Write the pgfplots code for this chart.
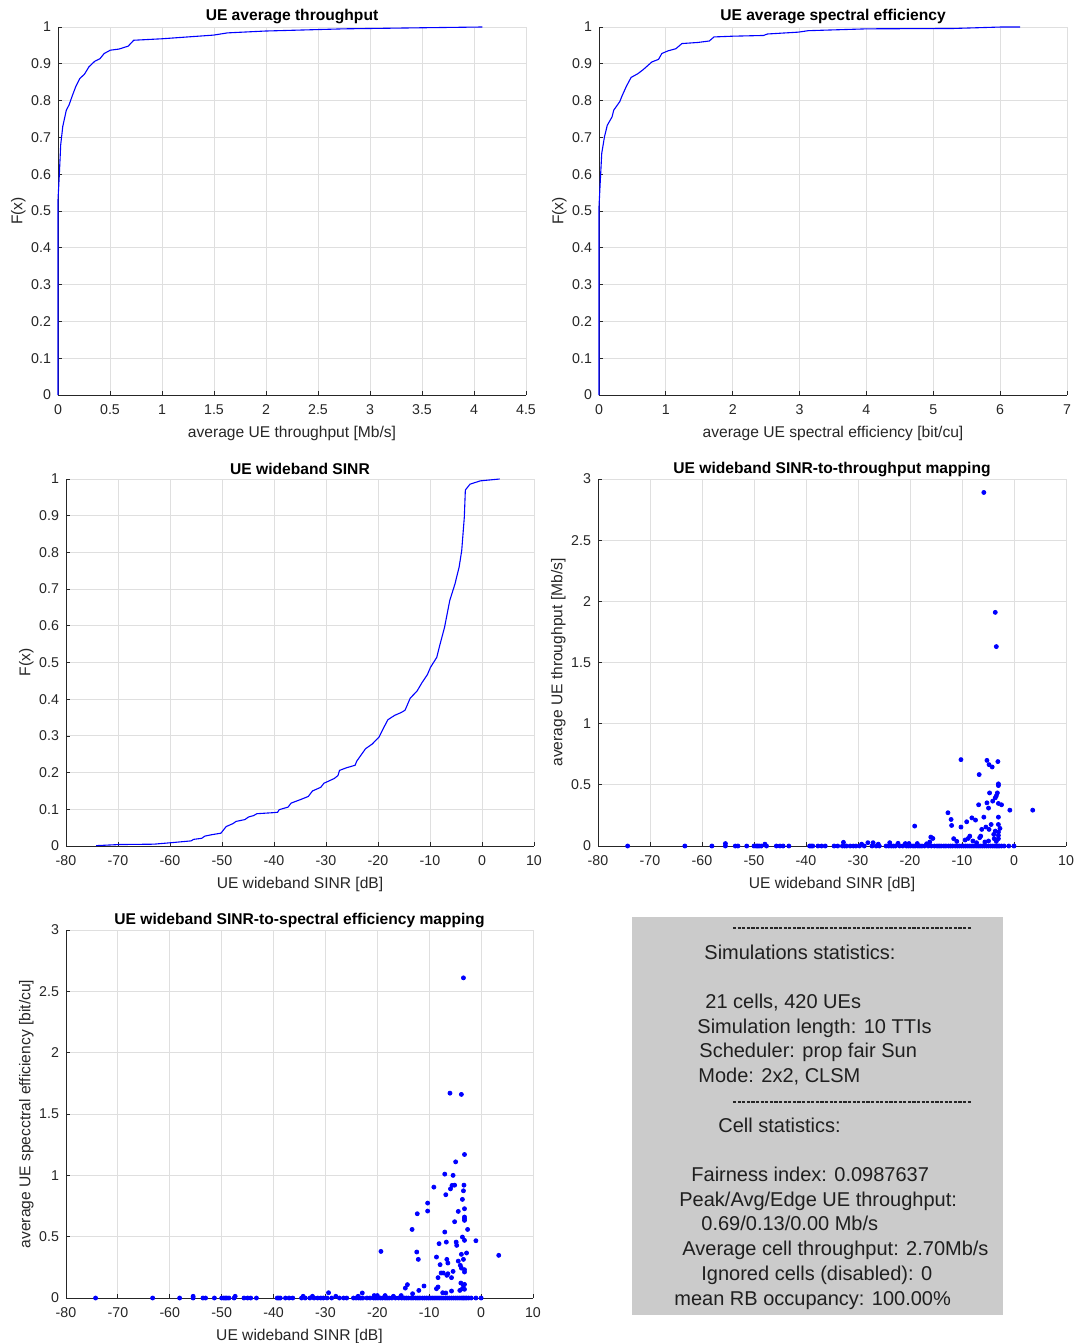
\documentclass[border=0pt]{standalone}
\usepackage{fontspec}
\setmainfont{Liberation Sans}
\usepackage{pgfplots}
\pgfplotsset{compat=1.18}

\definecolor{axisgray}{RGB}{38,38,38}
\definecolor{gridgray}{RGB}{223,223,223}
\definecolor{panelgray}{RGB}{203,203,203}
\definecolor{mblue}{RGB}{0,0,255}

\pgfplotsset{
  mfig/.style={
    scale only axis, width=234pt, height=184pt,
    axis lines=left, axis line style={-, color=axisgray, line width=0.5pt},
    grid=major, major grid style={color=gridgray, line width=0.45pt},
    tick align=inside, major tick length=2pt,
    tick style={color=axisgray, line width=0.4pt},
    tick label style={font=\fontsize{7.1}{8}\selectfont, color=axisgray},
    xticklabel style={yshift=-1.5pt},
    label style={font=\fontsize{7.8}{9}\selectfont, color=axisgray},
    title style={font=\bfseries\fontsize{7.8}{9}\selectfont, at={(axis description cs:0.5,1)}, anchor=center, yshift=-1pt},
    xlabel style={at={(axis description cs:0.5,-0.104)}, anchor=center},
    ylabel style={at={(axis description cs:-0.085,0.5)}, anchor=center},
    /pgf/number format/assume math mode=true,
    /pgf/number format/fixed,
    clip=false,
  },
  cdfline/.style={color=mblue, line width=0.55pt, no marks},
  dots/.style={only marks, mark=*, mark size=1pt, color=mblue},
}

% empirical CDF of the average UE throughput [Mb/s]
\pgfplotstableread{
x F
0 0
0 0.53
0.013 0.60
0.026 0.68
0.046 0.73
0.08 0.774
0.106 0.788
0.14 0.815
0.172 0.839
0.21 0.86
0.255 0.872
0.298 0.892
0.354 0.907
0.404 0.914
0.444 0.928
0.503 0.937
0.586 0.940
0.675 0.948
0.728 0.964
1.0 0.968
1.497 0.978
1.63 0.984
1.99 0.989
2.75 0.995
3.52 0.998
4.08 1.0
}\thrcdf

% empirical CDF of the average UE spectral efficiency [bit/cu]
\pgfplotstableread{
x F
0 0
0 0.512
0.02 0.584
0.041 0.657
0.082 0.702
0.124 0.733
0.196 0.756
0.22 0.774
0.31 0.797
0.35 0.815
0.41 0.839
0.48 0.863
0.58 0.873
0.66 0.884
0.79 0.905
0.89 0.912
0.94 0.928
1.03 0.935
1.15 0.941
1.24 0.955
1.48 0.958
1.65 0.962
1.72 0.973
2.0 0.975
2.46 0.977
2.52 0.981
2.98 0.986
3.13 0.990
4.01 0.995
5.3 0.996
6.02 1.0
6.30 1.0
}\secdf

% empirical CDF of the UE wideband SINR [dB]
\pgfplotstableread{
x F
-74.2 0.001
-69.8 0.004
-63.1 0.005
-59.8 0.009
-55.9 0.014
-55.5 0.018
-53.9 0.021
-53.3 0.027
-51.9 0.031
-50.2 0.035
-49.2 0.053
-47.9 0.061
-47.3 0.067
-45.6 0.072
-44.9 0.079
-43.9 0.083
-43.3 0.088
-40.0 0.091
-39.3 0.092
-39.0 0.099
-37.3 0.106
-36.7 0.117
-35.0 0.126
-33.4 0.135
-32.6 0.150
-31.0 0.160
-30.4 0.171
-28.4 0.184
-27.7 0.192
-27.4 0.206
-26.1 0.213
-24.4 0.220
-24.1 0.231
-22.4 0.265
-21.1 0.278
-19.8 0.297
-19.1 0.317
-18.1 0.344
-16.8 0.356
-15.5 0.364
-14.8 0.370
-13.8 0.403
-12.5 0.422
-11.5 0.446
-10.5 0.467
-9.9 0.487
-8.7 0.514
-8.1 0.548
-7.2 0.596
-6.2 0.669
-5.2 0.714
-4.4 0.760
-3.9 0.805
-3.4 0.896
-3.2 0.970
-2.3 0.986
-0.3 0.995
3.4 1.0
}\sinrcdf

% UE wideband SINR [dB] vs. average UE throughput [Mb/s]
\pgfplotstableread{
x y
-74.3 0
-63.3 0
-58.1 0
-55.5 0.02
-55.5 0
-53.6 0
-53.1 0
-51.4 0
-50.0 0
-49.6 0
-49.3 0
-49.0 0
-48.6 0
-47.9 0.015
-47.6 0
-45.7 0
-45.0 0
-44.4 0
-43.3 0
-39.3 0
-39.0 0
-38.7 0
-37.7 0
-37.0 0
-36.3 0
-34.6 0
-33.9 0
-33.0 0
-32.8 0.03
-32.6 0
-32.2 0
-31.5 0
-30.9 0
-30.4 0
-29.7 0
-29.3 0.015
-28.8 0
-28.1 0.027
-27.3 0
-27.1 0.027
-26.5 0
-26.1 0.015
-25.9 0
-24.6 0
-24.1 0
-23.9 0.027
-23.6 0
-23.2 0
-22.8 0
-22.3 0.022
-22.0 0
-21.4 0
-20.9 0.02
-20.7 0
-20.3 0
-20.2 0.02
-19.9 0
-19.4 0
-19.1 0.163
-19.0 0
-18.6 0.02
-18.5 0
-18.1 0
-17.7 0
-17.2 0
-16.8 0.018
-16.5 0
-16.2 0.033
-16.0 0.073
-15.9 0
-15.6 0.062
-15.3 0
-14.8 0
-14.4 0
-14.0 0
-13.5 0
-13.1 0
-12.7 0.272
-12.6 0
-12.2 0
-12.1 0.217
-12.0 0.168
-11.8 0
-11.6 0.060
-11.3 0
-11.0 0.038
-10.9 0
-10.5 0
-10.2 0.706
-10.2 0.155
-10.1 0
-9.7 0
-9.4 0.049
-9.3 0
-9.1 0.198
-8.9 0
-8.8 0.062
-8.5 0.081
-8.5 0
-8.1 0.23
-8.1 0
-7.9 0.041
-7.7 0
-7.4 0.212
-7.3 0
-7.2 0.027
-6.9 0
-6.8 0.337
-6.7 0.584
-6.6 0.068
-6.5 0
-6.4 0.081
-6.2 0.136
-6.1 0
-5.8 2.89
-5.8 0.236
-5.7 0
-5.6 0.033
-5.4 0.155
-5.3 0
-5.2 0.70
-5.2 0.353
-4.9 0.31
-4.9 0.041
-4.9 0
-4.8 0.665
-4.8 0.136
-4.7 0.434
-4.5 0
-4.4 0.176
-4.2 0.646
-4.1 0.367
-4.1 0
-3.9 0.095
-3.8 0.060
-3.7 0
-3.6 1.91
-3.6 0.394
-3.6 0.122
-3.4 1.63
-3.4 0.41
-3.4 0.038
-3.4 0
-3.2 0.434
-3.1 0.69
-3.1 0
-3.0 0.508
-3.0 0.494
-3.0 0.348
-3.0 0.236
-3.0 0.176
-3.0 0.114
-3.0 0.087
-3.0 0.060
-2.8 0
-2.7 0.144
-2.4 0.337
-2.4 0
-1.9 0
-1.0 0
-0.8 0.293
0.0 0
3.6 0.293
}\sinrthr

% UE wideband SINR [dB] vs. average UE spectral efficiency [bit/cu]
\pgfplotstableread{
x y
-74.3 0
-63.3 0
-58.1 0
-55.5 0.014
-55.5 0
-53.6 0
-53.1 0
-51.4 0
-50.0 0
-49.6 0
-49.3 0
-49.0 0
-48.6 0
-47.4 0.014
-47.6 0
-45.7 0
-45.0 0
-44.4 0
-43.3 0
-39.3 0
-39.0 0
-38.7 0
-37.7 0
-37.0 0
-36.3 0
-34.6 0
-34.3 0.014
-33.9 0
-33.0 0
-32.5 0.014
-32.2 0
-31.5 0
-30.9 0
-30.4 0
-29.7 0
-29.4 0.043
-28.8 0
-28.0 0.014
-27.3 0
-26.5 0
-25.9 0
-24.6 0
-24.1 0
-23.7 0.014
-23.6 0
-23.2 0
-22.9 0.041
-22.8 0
-22.0 0
-21.4 0
-20.7 0
-20.6 0.02
-20.3 0
-20.0 0.02
-19.9 0
-19.4 0
-19.3 0.38
-19.0 0
-18.5 0.02
-18.5 0
-18.1 0
-17.7 0
-17.2 0
-16.9 0.014
-16.5 0
-15.9 0
-15.4 0.02
-15.3 0
-14.8 0
-14.6 0.081
-14.4 0
-14.2 0.109
-14.0 0
-13.5 0
-13.3 0.559
-13.2 0.035
-13.1 0
-12.6 0
-12.4 0.375
-12.3 0.687
-12.2 0
-12.1 0.315
-12.0 0.062
-11.8 0
-11.3 0
-11.0 0.098
-10.9 0
-10.5 0
-10.3 0.774
-10.3 0.709
-10.1 0
-9.7 0
-9.3 0
-9.1 0.904
-8.9 0
-8.6 0.334
-8.6 0.076
-8.5 0
-8.3 0.166
-8.3 0.09
-8.1 0.443
-8.1 0
-7.9 0.272
-7.7 0.204
-7.7 0
-7.4 0.043
-7.3 0.204
-7.3 0
-7.0 1.01
-7.0 0.538
-6.9 0
-6.8 0.842
-6.8 0.041
-6.7 0.456
-6.6 0.315
-6.6 0.185
-6.5 0
-6.4 0.285
-6.4 0.198
-6.1 0
-6.0 1.67
-5.9 0.89
-5.7 0.166
-5.7 0.057
-5.7 0
-5.6 0.918
-5.4 1.00
-5.4 0.217
-5.3 0
-5.1 0.92
-5.1 0.622
-4.9 1.11
-4.9 0
-4.8 0.456
-4.7 0.429
-4.5 0
-4.4 0.706
-4.4 0.301
-4.1 0.062
-4.1 0
-4.0 0.266
-3.9 0.122
-3.8 1.66
-3.8 0.356
-3.8 0.244
-3.7 0
-3.6 0.804
-3.6 0.497
-3.6 0.076
-3.4 2.61
-3.4 0.874
-3.4 0.315
-3.4 0.103
-3.4 0
-3.3 0.92
-3.2 1.17
-3.2 0.728
-3.2 0.66
-3.2 0.646
-3.2 0.633
-3.2 0.47
-3.2 0.231
-3.2 0.212
-3.2 0.111
-3.2 0.071
-3.1 0
-2.8 0.367
-2.8 0
-2.6 0.559
-2.4 0
-1.9 0
-1.0 0.467
-1.0 0
0.0 0
3.4 0.348
}\sinrse

\begin{document}
\begin{tikzpicture}
\path[use as bounding box] (0,0) rectangle (540pt,-671.5pt);

% CDF of average UE throughput
\begin{axis}[mfig, at={(29pt,-197.5pt)}, anchor=south west,
  xmin=0, xmax=4.5, ymin=0, ymax=1,
  xtick={0,0.5,...,4.5}, ytick={0,0.1,...,1},
  title={UE average throughput},
  xlabel={average UE throughput [Mb/s]}, ylabel={F(x)}]
\addplot[cdfline] table[x=x,y=F] {\thrcdf};
\end{axis}

% CDF of average UE spectral efficiency
\begin{axis}[mfig, at={(299.5pt,-197.5pt)}, anchor=south west,
  xmin=0, xmax=7, ymin=0, ymax=1,
  xtick={0,1,...,7}, ytick={0,0.1,...,1},
  title={UE average spectral efficiency},
  xlabel={average UE spectral efficiency [bit/cu]}, ylabel={F(x)}]
\addplot[cdfline] table[x=x,y=F] {\secdf};
\end{axis}

% CDF of UE wideband SINR
\begin{axis}[mfig, at={(33pt,-423pt)}, anchor=south west, height=183.5pt,
  xmin=-80, xmax=10, ymin=0, ymax=1,
  xtick={-80,-70,...,10}, ytick={0,0.1,...,1},
  title={UE wideband SINR},
  xlabel={UE wideband SINR [dB]}, ylabel={F(x)}]
\addplot[cdfline] table[x=x,y=F] {\sinrcdf};
\end{axis}

% SINR-to-throughput scatter
\begin{axis}[mfig, at={(299pt,-423pt)}, anchor=south west, height=183.5pt,
  xmin=-80, xmax=10, ymin=0, ymax=3,
  xtick={-80,-70,...,10}, ytick={0,0.5,...,3},
  title={UE wideband SINR-to-throughput mapping},
  xlabel={UE wideband SINR [dB]}, ylabel={average UE throughput [Mb/s]}]
\addplot[dots] table[x=x,y=y] {\sinrthr};
\end{axis}

% SINR-to-spectral-efficiency scatter
\begin{axis}[mfig, at={(33pt,-649pt)}, anchor=south west, width=233.5pt,
  xmin=-80, xmax=10, ymin=0, ymax=3,
  xtick={-80,-70,...,10}, ytick={0,0.5,...,3},
  title={UE wideband SINR-to-spectral efficiency mapping},
  xlabel={UE wideband SINR [dB]}, ylabel={average UE specctral efficiency [bit/cu]}]
\addplot[dots] table[x=x,y=y] {\sinrse};
\end{axis}

% statistics panel
\fill[panelgray] (316pt,-458.5pt) rectangle (501.5pt,-657.5pt);
\draw[color=black!85, line width=0.6pt, dash pattern=on 1.6pt off 0.7pt] (366.5pt,-464pt) -- (486pt,-464pt);
\draw[color=black!85, line width=0.6pt, dash pattern=on 1.6pt off 0.7pt] (366.5pt,-551pt) -- (486pt,-551pt);
\begin{scope}[every node/.style={anchor=base west, inner sep=0pt, font=\fontsize{10}{12}\selectfont, text=black!88}]
\node at (352pt,-479.5pt) {Simulations statistics:};
\node at (352.5pt,-504pt) {21 cells, 420 UEs};
\node at (348.5pt,-516.5pt) {Simulation length: 10 TTIs};
\node at (349.5pt,-528.5pt) {Scheduler: prop fair Sun};
\node at (349pt,-541pt) {Mode: 2x2, CLSM};
\node at (359pt,-566pt) {Cell statistics:};
\node at (345.5pt,-590.5pt) {Fairness index: 0.0987637};
\node at (339.5pt,-603pt) {Peak/Avg/Edge UE throughput:};
\node at (350.5pt,-615pt) {0.69/0.13/0.00 Mb/s};
\node at (341pt,-627.5pt) {Average cell throughput: 2.70Mb/s};
\node at (350.5pt,-640pt) {Ignored cells (disabled): 0};
\node at (337pt,-652.5pt) {mean RB occupancy: 100.00\%};
\end{scope}
\end{tikzpicture}
\end{document}
